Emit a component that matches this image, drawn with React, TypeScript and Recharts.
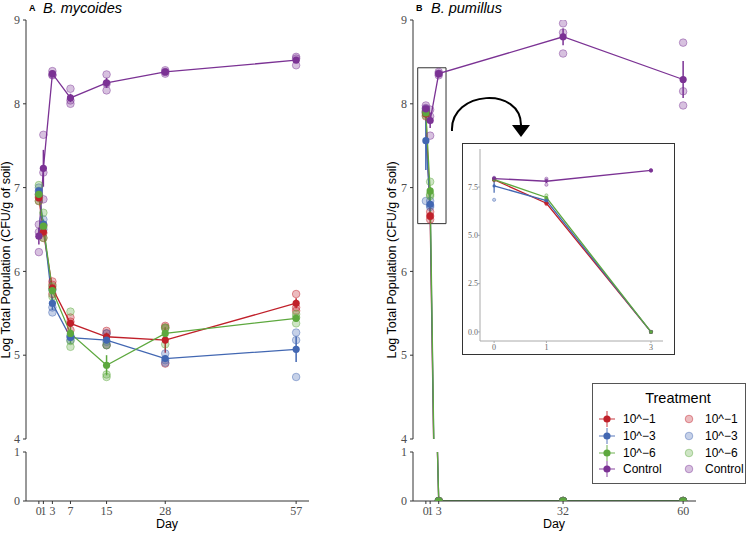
import React from 'react'
import { ComposedChart, Line, XAxis, YAxis, ErrorBar, ReferenceArea } from 'recharts'

const treatments = ['10^−1', '10^−3', '10^−6', 'Control']
const colors = ['#C0202A', '#4267B2', '#5DA83E', '#7B3294']

// Panel A: B. mycoides
const daysA = [0, 1, 3, 7, 15, 28, 57]
const a1Mean = [6.88, 6.47, 5.8, 5.38, 5.22, 5.18, 5.62]
const a3Mean = [6.96, 6.56, 5.62, 5.21, 5.18, 4.96, 5.07]
const a6Mean = [6.92, 6.54, 5.77, 5.26, 4.88, 5.26, 5.44]
const aCtrlMean = [6.42, 7.23, 8.36, 8.07, 8.25, 8.38, 8.52]
const a1Se = [0.03, 0.04, 0.04, 0.04, 0.05, 0.15, 0.06]
const a3Se = [0.03, 0.03, 0.08, 0.02, 0.04, 0.03, 0.15]
const a6Se = [0.05, 0.08, 0.04, 0.12, 0.12, 0.07, 0.03]
const aCtrlSe = [0.1, 0.22, 0.02, 0.05, 0.06, 0.02, 0.03]
const a1Reps = [[6.84, 6.88, 6.92], [6.4, 6.46, 6.55], [5.73, 5.84, 5.88], [5.3, 5.4, 5.45], [5.12, 5.26, 5.29], [4.9, 5.33, 5.35], [5.53, 5.57, 5.73]]
const a3Reps = [[6.92, 6.96, 7.0], [6.5, 6.56, 6.62], [5.51, 5.57, 5.78], [5.18, 5.22, 5.23], [5.12, 5.16, 5.26], [4.91, 4.94, 5.02], [4.74, 5.18, 5.27]]
const a6Reps = [[6.84, 6.9, 7.03], [6.4, 6.53, 6.7], [5.7, 5.79, 5.82], [5.1, 5.17, 5.52], [4.74, 4.77, 5.12], [5.13, 5.32, 5.33], [5.38, 5.45, 5.49]]
const aCtrlReps = [[6.23, 6.47, 6.56], [6.86, 7.18, 7.63], [8.34, 8.35, 8.39], [8.0, 8.04, 8.18], [8.16, 8.24, 8.35], [8.36, 8.38, 8.4], [8.46, 8.54, 8.56]]

// Panel B: B. pumillus
const daysB = [0, 1, 3, 32, 60]
const b1Mean = [7.88, 6.66, 0, 0, 0]
const b3Mean = [7.56, 6.8, 0, 0, 0]
const b6Mean = [7.89, 6.96, 0, 0, 0]
const bCtrlMean = [7.94, 7.8, 8.36, 8.8, 8.29]
const b1Se = [0.02, 0.03, 0, 0, 0]
const b3Se = [0.35, 0.02, 0, 0, 0]
const b6Se = [0.02, 0.05, 0, 0, 0]
const bCtrlSe = [0.02, 0.09, 0.01, 0.1, 0.22]
const b1Reps = [[7.85, 7.88, 7.91], [6.62, 6.66, 6.71], [0, 0, 0], [0, 0, 0], [0, 0, 0]]
const b3Reps = [[6.84, 7.9, 7.94], [6.77, 6.79, 6.84], [0, 0, 0], [0, 0, 0], [0, 0, 0]]
const b6Reps = [[7.86, 7.89, 7.92], [6.9, 6.92, 7.07], [0, 0, 0], [0, 0, 0], [0, 0, 0]]
const bCtrlReps = [[7.9, 7.95, 7.98], [7.62, 7.85, 7.93], [8.34, 8.36, 8.38], [8.6, 8.85, 8.96], [7.98, 8.15, 8.73]]

const ticksUpper = [4, 5, 6, 7, 8, 9]
const ticksLower = [0, 1]
const insetDays = [0, 1, 3]
const insetTicksY = [0, 2.5, 5, 7.5]

function buildRows(days: number[], means: number[][], ses: number[][], reps: number[][][]) {
  return days.map((day, i) => {
    const row: any = { day }
    means.forEach((m, k) => {
      row['m' + k] = m[i]
      row['e' + k] = ses[k][i]
      reps[k][i].forEach((v, j) => {
        row[`r${k}_${j}`] = v
      })
    })
    return row
  })
}

const rowsA = buildRows(daysA, [a1Mean, a3Mean, a6Mean, aCtrlMean], [a1Se, a3Se, a6Se, aCtrlSe], [a1Reps, a3Reps, a6Reps, aCtrlReps])
const rowsB = buildRows(daysB, [b1Mean, b3Mean, b6Mean, bCtrlMean], [b1Se, b3Se, b6Se, bCtrlSe], [b1Reps, b3Reps, b6Reps, bCtrlReps])
const rowsInset = rowsB.filter((r) => insetDays.includes(r.day))

const serif = 'Liberation Serif, Times New Roman, serif'
const sans = 'Liberation Sans, Arial, sans-serif'
const axisStroke = '#333'
const tickStyle = { fill: '#4d4d4d', fontSize: 12, fontFamily: serif }

function series(prefix: string, meanR: number, repR: number, lw: number, errW: number) {
  const els: any[] = []
  colors.forEach((c, k) => {
    for (let j = 0; j < 3; j++) {
      els.push(
        <Line
          key={`${prefix}r${k}${j}`}
          dataKey={`r${k}_${j}`}
          stroke="none"
          dot={{ r: repR, fill: c, fillOpacity: 0.3, stroke: c, strokeOpacity: 0.45, strokeWidth: 1 }}
          activeDot={false}
          isAnimationActive={false}
        />
      )
    }
  })
  colors.forEach((c, k) => {
    els.push(
      <Line
        key={`${prefix}m${k}`}
        dataKey={`m${k}`}
        stroke={c}
        strokeWidth={lw}
        dot={{ r: meanR, fill: c, stroke: c, strokeWidth: 0 }}
        activeDot={false}
        isAnimationActive={false}
      >
        <ErrorBar dataKey={`e${k}`} width={0} stroke={c} strokeWidth={errW} direction="y" />
      </Line>
    )
  })
  return els
}

function Panel({ left, rows, days, domain, box }: { left: number; rows: any[]; days: number[]; domain: number[]; box?: boolean }) {
  return (
    <>
      <div style={{ position: 'absolute', left, top: 0 }}>
        <ComposedChart width={320} height={448} data={rows} margin={{ top: 20, right: 11, bottom: 9, left: 0 }}>
          <XAxis dataKey="day" type="number" domain={domain} allowDataOverflow hide />
          <YAxis
            type="number"
            domain={[4, 9]}
            ticks={ticksUpper}
            interval={0}
            allowDataOverflow
            width={26}
            tickSize={3}
            tickMargin={3}
            axisLine={{ stroke: axisStroke }}
            tickLine={{ stroke: axisStroke }}
            tick={tickStyle}
          />
          {series('u', 3.6, 3.8, 1.3, 1.5)}
          {box && <ReferenceArea x1={-1.9} x2={4.7} y1={6.57} y2={8.43} fill="none" stroke="#333" strokeWidth={1} />}
        </ComposedChart>
      </div>
      <div style={{ position: 'absolute', left, top: 440 }}>
        <ComposedChart width={320} height={93} data={rows} margin={{ top: 12, right: 11, bottom: 12, left: 0 }}>
          <XAxis
            dataKey="day"
            type="number"
            domain={domain}
            allowDataOverflow
            ticks={days}
            interval={0}
            height={20}
            tickSize={3}
            tickMargin={2}
            axisLine={{ stroke: axisStroke }}
            tickLine={{ stroke: axisStroke }}
            tick={tickStyle}
          />
          <YAxis
            type="number"
            domain={[0, 1]}
            ticks={ticksLower}
            interval={0}
            allowDataOverflow
            width={26}
            tickSize={3}
            tickMargin={3}
            axisLine={{ stroke: axisStroke }}
            tickLine={{ stroke: axisStroke }}
            tick={tickStyle}
          />
          {series('l', 3.6, 3.8, 1.3, 1.5)}
        </ComposedChart>
      </div>
    </>
  )
}

function Legend() {
  const rowY = [419, 436, 453, 469]
  return (
    <g>
      <rect x={592.5} y={383.5} width={153} height={100} fill="#fff" stroke="#555" strokeWidth={1} />
      <text x={678} y={403} textAnchor="middle" fontFamily={sans} fontSize={14.5} fill="#000">
        Treatment
      </text>
      {treatments.map((t, k) => (
        <g key={t}>
          <line x1={599} x2={615} y1={rowY[k]} y2={rowY[k]} stroke={colors[k]} strokeOpacity={0.6} strokeWidth={1.5} />
          <line x1={607} x2={607} y1={rowY[k] - 8} y2={rowY[k] + 8} stroke={colors[k]} strokeOpacity={0.6} strokeWidth={1.5} />
          <circle cx={607} cy={rowY[k]} r={3.6} fill={colors[k]} />
          <text x={623} y={rowY[k] + 4.3} fontFamily={sans} fontSize={12} fill="#000">
            {t}
          </text>
          <circle cx={689} cy={rowY[k]} r={3.8} fill={colors[k]} fillOpacity={0.3} stroke={colors[k]} strokeOpacity={0.45} />
          <text x={705} y={rowY[k] + 4.3} fontFamily={sans} fontSize={12} fill="#000">
            {t}
          </text>
        </g>
      ))}
    </g>
  )
}

export default function App() {
  const insetTick = { fill: '#666', fontSize: 8, fontFamily: serif }
  return (
    <div style={{ position: 'absolute', left: 0, top: 0, width: 748, height: 533, background: '#fff', overflow: 'hidden' }}>
      <Panel left={0} rows={rowsA} days={daysA} domain={[-2.85, 59.85]} />
      <Panel left={387} rows={rowsB} days={daysB} domain={[-3, 63]} box />

      <div
        style={{
          position: 'absolute',
          left: 462,
          top: 143,
          width: 213,
          height: 212,
          boxSizing: 'border-box',
          border: '1px solid #333',
          background: '#fff'
        }}
      />
      <div style={{ position: 'absolute', left: 462, top: 143 }}>
        <ComposedChart width={213} height={212} data={rowsInset} margin={{ top: 6, right: 12, bottom: 2, left: 0 }}>
          <XAxis
            dataKey="day"
            type="number"
            domain={[-0.27, 3.23]}
            allowDataOverflow
            ticks={insetDays}
            interval={0}
            height={12}
            tickSize={2}
            tickMargin={1}
            axisLine={{ stroke: '#aaa' }}
            tickLine={{ stroke: '#aaa' }}
            tick={insetTick}
          />
          <YAxis
            type="number"
            domain={[-0.47, 9.47]}
            ticks={insetTicksY}
            interval={0}
            allowDataOverflow
            tickFormatter={(v: number) => v.toFixed(1)}
            width={18}
            tickSize={2}
            tickMargin={0}
            axisLine={{ stroke: '#aaa' }}
            tickLine={{ stroke: '#aaa' }}
            tick={insetTick}
          />
          {series('i', 1.6, 1.6, 1.3, 1.2)}
        </ComposedChart>
      </div>

      <svg width={748} height={533} style={{ position: 'absolute', left: 0, top: 0, pointerEvents: 'none' }}>
        <text x={29} y={11} fontFamily={sans} fontSize={9} fontWeight="bold">A</text>
        <text x={43} y={12.5} fontFamily={sans} fontSize={14.5} fontStyle="italic">B. mycoides</text>
        <text x={416} y={11} fontFamily={sans} fontSize={9} fontWeight="bold">B</text>
        <text x={431} y={12.5} fontFamily={sans} fontSize={14.5} fontStyle="italic">B. pumillus</text>

        <text x={0} y={0} transform="translate(10,260) rotate(-90)" textAnchor="middle" fontFamily={sans} fontSize={12.5}>
          Log Total Population (CFU/g of soil)
        </text>
        <text x={0} y={0} transform="translate(396,260) rotate(-90)" textAnchor="middle" fontFamily={sans} fontSize={12.5}>
          Log Total Population (CFU/g of soil)
        </text>
        <text x={167} y={528} textAnchor="middle" fontFamily={sans} fontSize={12.5}>Day</text>
        <text x={554} y={528} textAnchor="middle" fontFamily={sans} fontSize={12.5}>Day</text>

        <path d="M 452 131 C 450 90, 522 86, 521 126" fill="none" stroke="#000" strokeWidth={2} />
        <polygon points="512,125 530,125 521,137" fill="#000" />

        <Legend />
      </svg>
    </div>
  )
}
